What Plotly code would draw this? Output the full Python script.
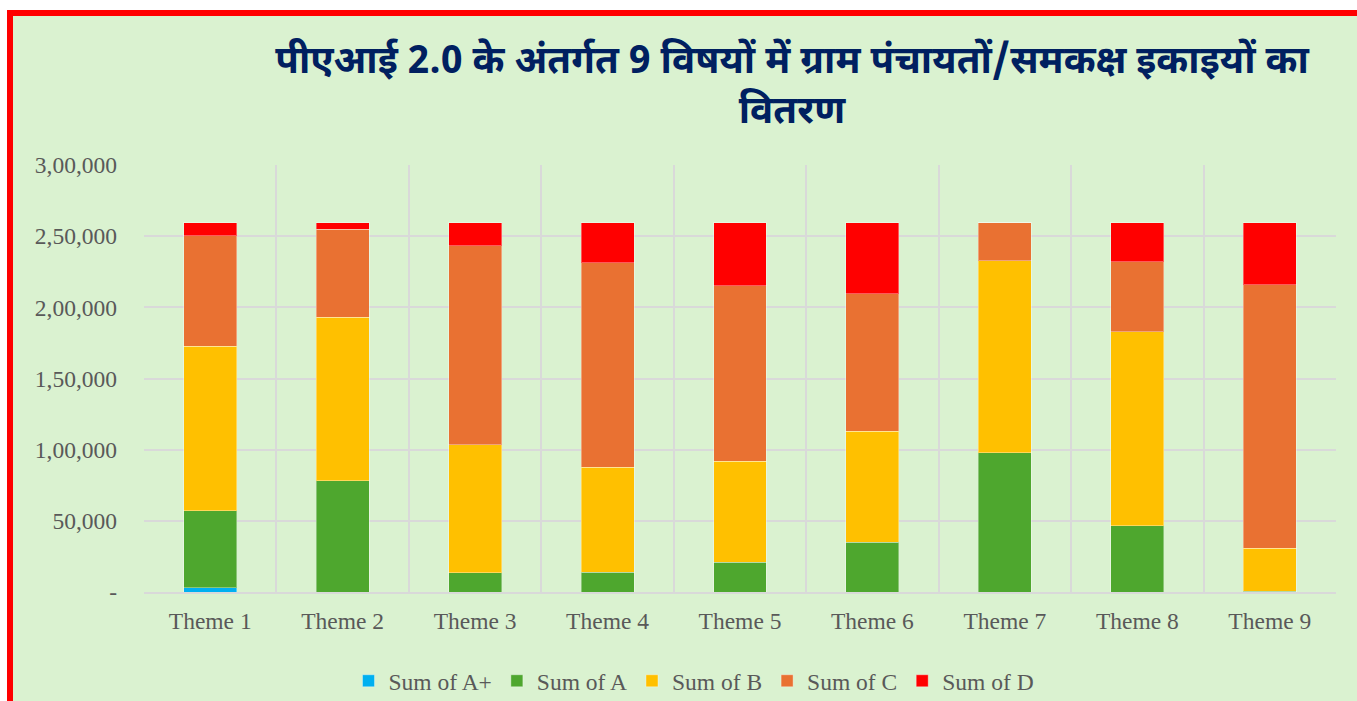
import plotly.graph_objects as go

categories = ["Theme 1", "Theme 2", "Theme 3", "Theme 4", "Theme 5",
              "Theme 6", "Theme 7", "Theme 8", "Theme 9"]

a_plus = [3000, 0, 0, 0, 0, 0, 0, 0, 0]
a_vals = [54100, 78000, 13600, 14000, 20900, 34900, 97900, 46600, 500]
b_vals = [115700, 115200, 89700, 73800, 71100, 78000, 134700, 136100, 30400]
c_vals = [77500, 61800, 140000, 143600, 123200, 96500, 26900, 49200, 185000]
d_vals = [9200, 4500, 16200, 28100, 44300, 50100, 0, 27600, 43600]

series_names = ["Sum of A+", "Sum of A", "Sum of B", "Sum of C", "Sum of D"]
series_values = [a_plus, a_vals, b_vals, c_vals, d_vals]
series_colors = ["#00B0F0", "#4EA72E", "#FFC000", "#E97132", "#FF0000"]

y_tickvals = [0, 50000, 100000, 150000, 200000, 250000, 300000]
y_ticktext = ["-", "50,000", "1,00,000", "1,50,000", "2,00,000", "2,50,000", "3,00,000"]

title_text = "पीएआई 2.0 के अंतर्गत 9 विषयों में ग्राम पंचायतों/समकक्ष इकाइयों का<br>वितरण"

W, H = 1357, 701
L, R, T, B = 144, 21, 165, 109
pw, ph = W - L - R, H - T - B


def px_x(x):
    return (x - L) / pw


def px_y(y):
    return (H - B - y) / ph


fig = go.Figure()
for name, vals, col in zip(series_names, series_values, series_colors):
    fig.add_trace(go.Bar(
        x=categories, y=vals, name=name,
        marker=dict(color=col, line=dict(color="rgba(255,255,255,0.35)", width=1)),
    ))

serif = "Liberation Serif, Times New Roman, serif"
green = "#DAF2D0"

fig.add_shape(type="rect", xref="paper", yref="paper", layer="below",
              x0=px_x(10), x1=px_x(W + 20), y0=px_y(H + 20), y1=px_y(13),
              fillcolor=green, line=dict(color="#FF0000", width=6))

fig.update_layout(
    width=W, height=H,
    barmode="stack", bargap=0.6,
    paper_bgcolor="white", plot_bgcolor="rgba(0,0,0,0)",
    margin=dict(l=L, r=R, t=T, b=B, autoexpand=False),
    title=dict(text=title_text, x=792 / W, xanchor="center", y=1 - 73 / H, yanchor="middle",
               font=dict(family="Noto Sans Devanagari, Noto Sans, sans-serif", size=38.5,
                         color="#002060", weight="bold")),
    font=dict(family=serif, size=23.5, color="#595959"),
    showlegend=True,
    legend=dict(orientation="h", x=px_x(694), xanchor="center", y=px_y(681), yanchor="middle",
                font=dict(family=serif, size=23.5, color="#595959"),
                bgcolor="rgba(0,0,0,0)", traceorder="normal"),
    xaxis=dict(type="category", tickson="boundaries", showgrid=True, gridcolor="#D9D9D9",
               gridwidth=2, showline=True, linecolor="#D9D9D9", linewidth=2, ticks="",
               zeroline=False, ticklabelstandoff=7,
               tickfont=dict(family=serif, size=23.5, color="#595959")),
    yaxis=dict(range=[0, 300000], tickvals=y_tickvals, ticktext=y_ticktext,
               showgrid=True, gridcolor="#D9D9D9", gridwidth=2, zeroline=False,
               showline=False, ticks="", ticklabelstandoff=26,
               tickfont=dict(family=serif, size=23.5, color="#595959")),
)

fig.write_html("out.html", config={"displayModeBar": False},
               post_script="document.body.style.margin='0';")
